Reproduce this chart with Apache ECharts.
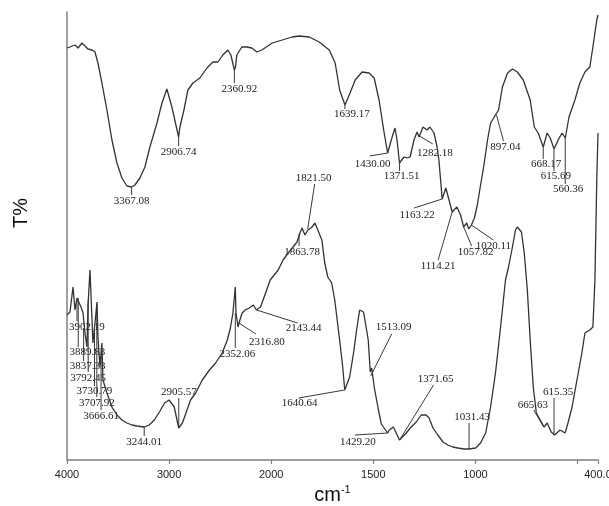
<!DOCTYPE html>
<html><head><meta charset="utf-8">
<script src="https://cdn.jsdelivr.net/npm/echarts@6/dist/echarts.min.js"></script>
<style>html,body{margin:0;padding:0;background:#fff}#c{width:609px;height:506px}</style>
</head><body><div id="c"></div><script>
// ---- data (wavenumber cm-1, transmittance in arbitrary T% units) ----
const upperWn = [4000,3971,3922,3892,3853,3824,3795,3755,3726,3697,3658,3609,3560,3511,3462,3413,3367,3335,3286,3237,3188,3119,3070,3022,2973,2907,2894,2855,2816,2767,2699,2630,2571,2522,2474,2425,2395,2361,2350,2337,2288,2239,2190,2141,2092,1995,1946,1897,1863,1814,1765,1716,1687,1665,1639,1614,1589,1555,1521,1496,1472,1447,1430,1408,1394,1384,1372,1350,1335,1320,1301,1286,1276,1257,1237,1223,1203,1188,1179,1163,1145,1114,1091,1073,1058,1043,1033,1020,1005,990,975,960,941,926,902,887,868,843,819,795,766,732,712,693,668,649,634,615,595,576,560,542,513,489,464,440,425,406,400];
const upperT = [103,103.25,103.75,103,104.25,103.5,102.75,102.5,102,99.25,94.25,87.5,80,74.25,70.5,68.5,68.25,68.75,70.5,73.25,78.25,84.25,89.25,92.75,88.25,80.75,83.25,87.5,92.5,94.25,95.5,98,99.5,99.5,101.25,102.5,101.25,97.5,98.25,101.25,103.25,103.25,103,102,102.5,104.25,105,105.75,106,105.75,104.5,102.5,99.25,92.5,88.75,91.75,95,97,96.75,95.5,90,81.75,76.75,80.75,83,80,74.25,75.75,75.5,75.75,80,82,80.75,83.25,82.5,83.25,81.75,78.25,75,65.25,68,62,63.25,61.25,58.25,59.25,57.75,58.75,60.5,64,68.75,73.25,80,84.25,86.25,87.5,93.25,96.75,97.75,97,95,90,83.25,81.75,78.25,81.75,80.5,77.75,80,81.75,80.5,85.75,90,94.25,97,98.25,103.25,110,111.25];
const lowerWn = [4000,3971,3941,3922,3902,3863,3843,3824,3804,3795,3775,3755,3746,3726,3706,3697,3677,3658,3648,3609,3560,3511,3462,3413,3364,3315,3244,3195,3145,3095,3045,3000,2950,2906,2870,2835,2790,2740,2675,2605,2545,2480,2430,2400,2375,2352,2345,2325,2316,2285,2255,2215,2175,2145,2105,2055,2010,1966,1942,1917,1893,1874,1859,1849,1835,1820,1800,1786,1772,1752,1738,1723,1704,1689,1665,1650,1640,1616,1597,1582,1567,1548,1533,1525,1515,1508,1495,1475,1461,1430,1422,1402,1388,1372,1339,1315,1290,1266,1242,1227,1208,1184,1159,1135,1111,1086,1057,1031,999,975,950,926,902,877,853,838,819,804,795,775,761,746,732,717,702,683,664,649,629,612,586,561,547,527,503,479,464,440,425,415,406,400];
const lowerT = [36.25,37,43.25,37.5,40.5,38.25,36.75,31.75,28.25,38.25,47.5,35,29.25,34.25,39.5,30.75,23.25,29.25,20,16.75,13.25,11.25,10,9.25,8.75,8.5,8.25,8.75,10,12,14.25,15,13.25,8,9.25,11.75,15,16.75,20,22.5,24.25,26.75,30,33,36.75,43.25,36.75,33.25,34.25,36.75,37.5,38,38.75,37.5,38.25,41.75,45,47.5,50,51.75,53.25,54.5,56.75,58,56.25,57.5,58.25,59.25,57.5,55,49.25,45.75,44.25,40,30,23.25,17.5,20.75,26.75,32.5,37.5,37,32.5,30,22,23,18,12.5,9,6.75,7.5,8.25,6.75,5,6.75,8.25,9.5,11.25,11.25,10.5,8,6.25,4.5,3.75,3.25,3,2.75,2.75,3,4.25,6.75,13.25,21.75,33.25,45,48.25,53.25,57.5,58.25,57,51.75,42.5,30,18.25,11.75,10,8.25,9.25,7,6.25,7.5,6.75,9.25,13.25,20,26.75,31.75,32.5,33.25,45,70,81.75];

const xTickWn = [4000,3000,2000,1500,1000,500,400];
const xTickLabels = ['4000','3000','2000','1500','1000','','400.0'];

// peak annotations: label text, wavenumber, T at anchor
const peakLabels = ['3367.08','2906.74','2360.92','1639.17','1430.00','1371.51','1282.18','1163.22','1114.21','1057.82','1020.11','897.04','668.17','615.69','560.36',
  '1821.50','1863.78','2143.44','2316.80','2352.06','3902.19','3889.83','3837.33','3792.45','3730.79','3707.92','3666.61','2905.57','3244.01','1640.64','1513.09','1371.65','1429.20','1031.43','665.63','615.35'];
const peakWn = [3367.08,2906.74,2360.92,1639.17,1430.00,1371.51,1282.18,1163.22,1114.21,1057.82,1020.11,897.04,668.17,615.69,560.36,
  1821.50,1863.78,2143.44,2316.80,2352.06,3902.19,3889.83,3837.33,3792.45,3730.79,3707.92,3666.61,2905.57,3244.01,1640.64,1513.09,1371.65,1429.20,1031.43,665.63,615.35];
const peakT = [68.25,80.75,97.5,88.75,76.75,74.25,81.25,65.25,62,58.25,58.75,86.25,78.25,77.75,80.5,
  57.75,56.5,37.5,34.25,36.75,40,40.5,33,40,33,39,26,8,8.25,17.5,21,5,6.75,2.75,8.25,6.25];

// ---- layout (pixel offsets of leader end and label centre, relative to the anchor) ----
const leaderEnd = [[0,8],[0,9],[0,13],[0,4],[-18,3],[0,8],[15,9],[-28,9],[-14,48],[8,19],[22,15],[7,26],[0,12],[0,22],[0,46],
  [7,-45],[0,12],[41,13],[17,11],[0,35],[0,21],[0,49],[0,33],[0,72],[0,58],[0,93],[0,54],[0,-30],[0,9],[-46,8],[21,-42],[34,-55],[-33,2],[0,-26],[-10,-17],[0,-37]];
const labelOff = [[0,14],[0,15],[5,19],[7,9],[-15,11],[2,13],[17,18],[-25,16],[-14,54],[12,25],[22,21],[9,32],[3,17],[2,27],[3,51],
  [6,-51],[3,18],[47,18],[28,19],[2,41],[10,27],[9,54],[4,38],[0,78],[0,63],[0,99],[0,60],[0,-36],[0,15],[-45,13],[23,-49],[36,-61],[-30,9],[3,-32],[-11,-22],[4,-43]];

// piecewise wavenumber scale (2x expansion below 2000 cm-1)
function pos(w){ return w >= 2000 ? 4000 - w : 2000 + 2 * (2000 - w); }
const upperData = upperWn.map((w,i)=>[pos(w), upperT[i]]);
const lowerData = lowerWn.map((w,i)=>[pos(w), lowerT[i]]);
const peakData = peakWn.map((w,i)=>[pos(w), peakT[i], i]);

const chart = echarts.init(document.getElementById('c'), null, {renderer:'canvas'});
chart.setOption({
  animation:false,
  backgroundColor:'#fff',
  grid:{left:67, right:11, top:12, bottom:46, containLabel:false, outerBoundsMode:'none'},
  xAxis:{
    type:'value', min:0, max:pos(400), interval:1000,
    splitLine:{show:false},
    axisLine:{lineStyle:{color:'#808080', width:1.5}},
    axisTick:{show:true, length:4, lineStyle:{color:'#808080', width:1.2}},
    axisLabel:{color:'#222', fontFamily:'Liberation Sans', fontSize:11, margin:9, showMaxLabel:true, showMinLabel:true,
      formatter:function(v){ for(let i=0;i<xTickWn.length;i++){ if(Math.abs(pos(xTickWn[i])-v)<1e-6) return xTickLabels[i]; } return ''; }},
    name:'{a|cm}{b|-1}', nameLocation:'middle', nameGap:24,
    nameTextStyle:{rich:{a:{fontFamily:'Liberation Sans', fontSize:20, color:'#111', verticalAlign:'bottom'}, b:{fontFamily:'Liberation Sans', fontSize:11, color:'#111', verticalAlign:'top', padding:[0,0,10,0]}}}
  },
  yAxis:{
    type:'value', min:0, max:112,
    splitLine:{show:false}, axisTick:{show:false}, axisLabel:{show:false},
    axisLine:{show:true, lineStyle:{color:'#808080', width:1.5}}
  },
  graphic:[{type:'text', left:11, top:198, rotation:Math.PI/2, style:{text:'T%', font:'20px "Liberation Sans"', fill:'#111'}}],
  series:[
    {type:'line', data:upperData, showSymbol:false, lineStyle:{color:'#333', width:1.3}, silent:true},
    {type:'line', data:lowerData, showSymbol:false, lineStyle:{color:'#333', width:1.3}, silent:true},
    {type:'custom', data:peakData, silent:true, clip:false,
      renderItem:function(params, api){
        const p = api.coord([api.value(0), api.value(1)]);
        const i = api.value(2);
        const le = leaderEnd[i], lo = labelOff[i];
        return {type:'group', children:[
          {type:'line', shape:{x1:p[0], y1:p[1], x2:p[0]+le[0], y2:p[1]+le[1]}, style:{stroke:'#3a3a3a', lineWidth:1}},
          {type:'text', x:p[0]+lo[0], y:p[1]+lo[1], style:{text:peakLabels[i], fill:'#222', font:'11px "Liberation Serif"', align:'center', verticalAlign:'middle'}}
        ]};
      }}
  ]
});
</script></body></html>
